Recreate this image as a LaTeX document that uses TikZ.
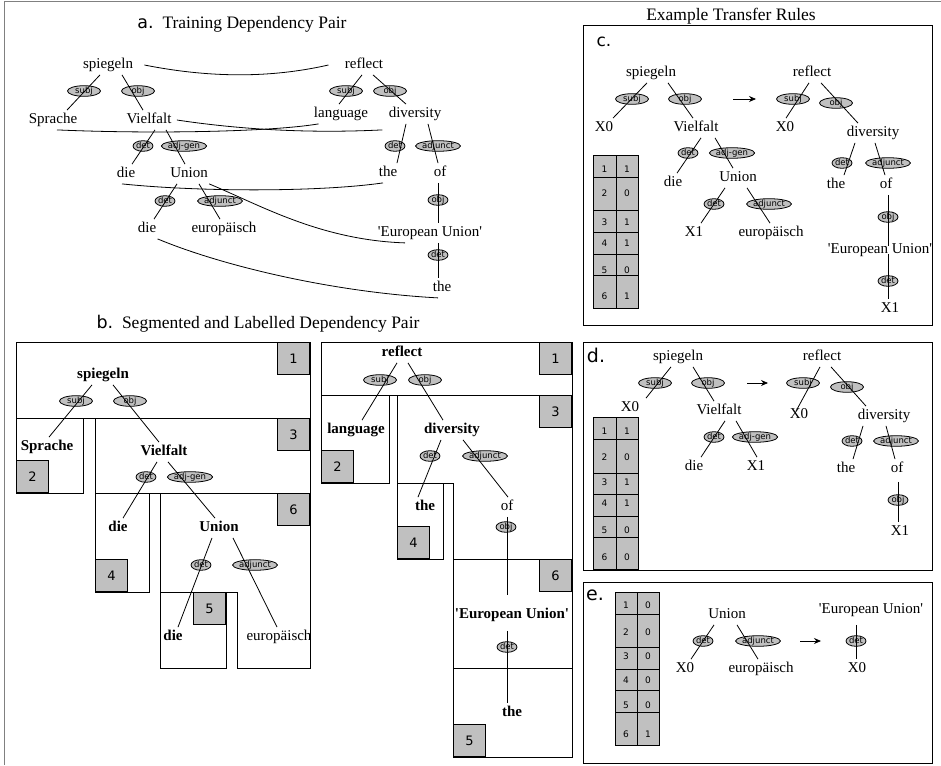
\documentclass[tikz,border=0pt]{standalone}
\usepackage{fontspec}
\setmainfont{Liberation Serif}
\setsansfont{DejaVu Sans}
\usetikzlibrary{shapes.geometric,arrows.meta}
\definecolor{boxgray}{RGB}{192,192,192}
\newcommand{\quo}{\textquotesingle}
\tikzset{
  word/.style={inner xsep=1pt,inner ysep=3pt,text height=10pt,text depth=3pt,font=\fontsize{15}{17}\selectfont},
  bword/.style={word,font=\fontsize{15}{17}\selectfont\bfseries},
  lab/.style={ellipse,draw,fill=boxgray,inner sep=0pt,minimum width=20pt,minimum height=10pt,text height=6pt,text depth=1.5pt,font=\sffamily\fontsize{8.5}{8.5}\selectfont},
  wlab/.style={lab,minimum width=33pt},
  numbox/.style={draw,fill=boxgray,minimum width=32pt,minimum height=32pt,inner sep=0pt,font=\sffamily\fontsize{13}{13}\selectfont},
  cell/.style={inner sep=0pt,font=\sffamily\fontsize{9}{9}\selectfont},
  headtxt/.style={font=\fontsize{17.5}{19}\selectfont},
  paneltag/.style={font=\sffamily\fontsize{17}{17}\selectfont}
}
\begin{document}
\begin{tikzpicture}[x=1pt,y=-1pt,line width=0.8pt]
\useasboundingbox (0,0) rectangle (941,765);
\draw[gray,line width=1pt] (4,765) -- (4,2) -- (941,2);

% a. training pair
\node[headtxt] (aTitle) at (242,24) {\textsf{a.}\enspace Training Dependency Pair};
\node[word] (aSpie) at (108,65) {spiegeln};
\node[word] (aSpr) at (53,120) {Sprache};
\node[word] (aVie) at (149,120) {Vielfalt};
\node[word] (aDie) at (126,174) {die};
\node[word] (aUni) at (189,174) {Union};
\node[word] (aDie2) at (147,229) {die};
\node[word] (aEur) at (224,229) {europäisch};
\node[wlab] (aSubj) at (84,91) {subj};
\node[wlab] (aObj) at (138,91) {obj};
\node[lab] (aDet) at (143,146) {det};
\node[lab] (aAdjg) at (184,146) {adj-gen};
\node[lab] (aDet2) at (165,201) {det};
\node[lab] (aAdju) at (220,201) {adjunct};
\node[word] (aRef) at (364,65) {reflect};
\node[word] (aLan) at (341,114) {language};
\node[word] (aDiv) at (415,114) {diversity};
\node[word] (aThe) at (388,173) {the};
\node[word] (aOf) at (440,173) {of};
\node[word] (aEU) at (430,233) {\quo{}European Union\quo};
\node[word] (aThe2) at (442,288) {the};
\node[wlab] (aSubjE) at (346,91) {subj};
\node[wlab] (aObjE) at (390,91) {obj};
\node[lab] (aDetE) at (395,146) {det};
\node[lab] (aAdjuE) at (438,146) {adjunct};
\node[lab] (aObjE2) at (438,200) {obj};
\node[lab] (aDetE2) at (438,255) {det};

\draw ([xshift=-8]aSpie.south) -- ([xshift=14]aSpr.north);
\draw ([xshift=14]aSpie.south) -- ([xshift=-6]aVie.north);
\draw ([xshift=6]aVie.south) -- ([xshift=6]aDie.north);
\draw ([xshift=17]aVie.south) -- ([xshift=-4]aUni.north);
\draw ([xshift=-12]aUni.south) -- ([xshift=7]aDie2.north);
\draw ([xshift=10]aUni.south) -- ([xshift=-4]aEur.north);
\draw ([xshift=-2]aRef.south) -- ([xshift=-2]aLan.north);
\draw ([xshift=9]aRef.south) -- ([xshift=-9]aDiv.north);
\draw ([xshift=-9]aDiv.south) -- ([xshift=9]aThe.north);
\draw ([xshift=13]aDiv.south) -- ([xshift=-2]aOf.north);
\draw ([xshift=-2]aOf.south) -- ([xshift=8]aEU.north);
\draw ([xshift=8]aEU.south) -- ([xshift=-4]aThe2.north);

% alignments
\draw ([xshift=10]aSpie.east) .. controls (220,80) and (280,76) .. ([xshift=-15]aRef.west);
\draw ([xshift=4]aSpr.south) .. controls (150,134) and (270,132) .. ([xshift=6]aLan.south west);
\draw ([xshift=4]aVie.east) .. controls (230,128) and (300,134) .. ([xshift=-5,yshift=-6]aDiv.south west);
\draw ([xshift=-4]aDie.south) .. controls (200,192) and (320,192) .. ([xshift=-5]aThe.south);
\draw (aUni.south east) .. controls (260,205) and (320,240) .. ([xshift=-25]aEU.south);
\draw (aDie2.south east) .. controls (220,265) and (330,292) .. ([xshift=-4]aThe2.south);

% b. segmented pair
\node[headtxt] (bTitle) at (258,324) {\textsf{b.}\enspace Segmented and Labelled Dependency Pair};
\draw (16,342) rectangle (310,418);
\draw (16,418) rectangle (83,493);
\draw (95,418) rectangle (310,493);
\draw (95,493) rectangle (149,592);
\draw (160,493) -- (310,493) -- (310,668) -- (237,668) -- (237,592) -- (160,592) -- cycle;
\draw (160,592) rectangle (226,668);
\node[numbox,anchor=north east] (bN1) at (310,342) {1};
\node[numbox,anchor=south west] (bN2) at (16,493) {2};
\node[numbox,anchor=north east] (bN3) at (310,418) {3};
\node[numbox,anchor=north east] (bN6) at (310,493) {6};
\node[numbox,anchor=south west] (bN4) at (95,592) {4};
\node[numbox,anchor=north east] (bN5) at (226,592) {5};

\node[bword] (bSpie) at (103,375) {spiegeln};
\node[bword] (bSpr) at (47,447) {Sprache};
\node[bword] (bVie) at (164,452) {Vielfalt};
\node[bword] (bDie) at (118,528) {die};
\node[bword] (bUni) at (219,528) {Union};
\node[bword] (bDie2) at (173,637) {die};
\node[word] (bEur) at (279,637) {europäisch};
\node[wlab] (bSubj) at (76,401) {subj};
\node[wlab] (bObj) at (130,401) {obj};
\node[lab] (bDet) at (146,477) {det};
\node[lab] (bAdjg) at (190,477) {adj-gen};
\node[lab] (bDet2) at (201,565) {det};
\node[lab] (bAdju) at (255,565) {adjunct};
\draw ([xshift=-11]bSpie.south) -- ([xshift=2]bSpr.north);
\draw ([xshift=10]bSpie.south) -- ([xshift=-5]bVie.north);
\draw ([xshift=-7]bVie.south) -- ([xshift=5]bDie.north);
\draw ([xshift=4]bVie.south) -- ([xshift=-4]bUni.north);
\draw ([xshift=-7]bUni.south) -- ([xshift=5]bDie2.north);
\draw ([xshift=14]bUni.south) -- ([xshift=-2]bEur.north);

\draw (321,342) rectangle (572,395);
\draw (321,395) rectangle (389,483);
\draw (397,395) -- (572,395) -- (572,559) -- (453,559) -- (453,483) -- (397,483) -- cycle;
\draw (397,483) rectangle (443,559);
\draw (453,559) rectangle (572,668);
\draw (453,668) rectangle (572,757);
\node[numbox,anchor=north east] (rN1) at (572,342) {1};
\node[numbox,anchor=south west] (rN2) at (321,483) {2};
\node[numbox,anchor=north east] (rN3) at (572,395) {3};
\node[numbox,anchor=south west] (rN4) at (397,559) {4};
\node[numbox,anchor=north east] (rN6) at (572,559) {6};
\node[numbox,anchor=south west] (rN5) at (453,757) {5};

\node[bword] (rRef) at (402,353) {reflect};
\node[bword] (rLan) at (356,430) {language};
\node[bword] (rDiv) at (452,430) {diversity};
\node[bword] (rThe) at (425,507) {the};
\node[word] (rOf) at (507,507) {of};
\node[bword] (rEU) at (512,615) {\quo{}European Union\quo};
\node[bword] (rThe2) at (512,713) {the};
\node[wlab] (rSubj) at (380,380) {subj};
\node[wlab] (rObj) at (425,380) {obj};
\node[lab] (rDet) at (430,456) {det};
\node[lab] (rAdju) at (485,456) {adjunct};
\node[lab] (rObj2) at (506,527) {obj};
\node[lab] (rDet2) at (507,647) {det};
\draw ([xshift=-5]rRef.south) -- ([xshift=6]rLan.north);
\draw ([xshift=6]rRef.south) -- ([xshift=-9]rDiv.north);
\draw ([xshift=-11]rDiv.south) -- ([xshift=-7]rThe.north);
\draw ([xshift=11]rDiv.south) -- ([xshift=1]rOf.north);
\draw (rOf.south) -- ([xshift=-5,yshift=10]rEU.north);
\draw ([xshift=-5,yshift=-6]rEU.south) -- ([xshift=-5]rThe2.north);

% c. rule
\node[headtxt] (cTitle) at (731,16) {Example Transfer Rules};
\draw (583,25) rectangle (932,325);
\node[paneltag] (cTag) at (604,42) {c.};
\node[word] (cSpie) at (651,73) {spiegeln};
\node[word] (cX0) at (604,128) {X0};
\node[word] (cVie) at (696,128) {Vielfalt};
\node[word] (cDie) at (673,183) {die};
\node[word] (cUni) at (738,178) {Union};
\node[word] (cX1) at (694,233) {X1};
\node[word] (cEur) at (771,233) {europäisch};
\node[wlab] (cSubj) at (632,99) {subj};
\node[wlab] (cObj) at (685,99) {obj};
\node[lab] (cDet) at (688,153) {det};
\node[lab] (cAdjg) at (732,153) {adj-gen};
\node[lab] (cDet2) at (714,204) {det};
\node[lab] (cAdju) at (769,204) {adjunct};
\node[word] (cRef) at (812,73) {reflect};
\node[word] (cX0r) at (785,128) {X0};
\node[word] (cDiv) at (873,133) {diversity};
\node[word] (cThe) at (836,185) {the};
\node[word] (cOf) at (886,185) {of};
\node[word] (cEU) at (880,250) {\quo{}European Union\quo};
\node[word] (cX1r) at (890,309) {X1};
\node[wlab] (cSubjE) at (793,99) {subj};
\node[wlab] (cObjE) at (836,103) {obj};
\node[lab] (cDetE) at (842,163) {det};
\node[lab] (cAdjuE) at (888,163) {adjunct};
\node[lab] (cObjE2) at (888,217) {obj};
\node[lab] (cDetE2) at (888,281) {det};
\coordinate (cArrA) at (733,99);
\coordinate (cArrB) at (756,99);
\draw[-{Stealth[length=7pt,width=6pt]}] (cArrA) -- (cArrB);
\draw ([xshift=-4]cSpie.south) -- ([xshift=9]cX0.north);
\draw ([xshift=17]cSpie.south) -- ([xshift=-3]cVie.north);
\draw ([xshift=5]cVie.south) -- ([xshift=4]cDie.north);
\draw ([xshift=19]cVie.south) -- ([xshift=-5]cUni.north);
\draw ([xshift=-13]cUni.south) -- ([xshift=7]cX1.north);
\draw ([xshift=9]cUni.south) -- ([xshift=-1]cEur.north);
\draw ([xshift=-3]cRef.south) -- ([xshift=1]cX0r.north);
\draw ([xshift=9]cRef.south) -- ([xshift=-15]cDiv.north);
\draw ([xshift=-18]cDiv.south) -- ([xshift=8]cThe.north);
\draw ([xshift=2]cDiv.south) -- ([xshift=-1]cOf.north);
\draw ([xshift=2]cOf.south) -- ([xshift=8,yshift=-6]cEU.north);
\draw ([xshift=8,yshift=6]cEU.south) -- ([xshift=-2]cX1r.north);

\draw[fill=boxgray] (593,155) rectangle (638,308);
\draw (616,155) -- (616,308);
\foreach \y in {177,210,232,254,275} \draw (593,\y) -- (638,\y);
\foreach \i/\v/\y in {1/1/169,2/0/193,3/1/222,4/1/243,5/0/270,6/1/296} {
  \node[cell] (cK\i) at (604.5,\y) {\i};
  \node[cell] (cV\i) at (627,\y) {\v};
}

% d. rule
\draw (583,342) rectangle (932,570);
\node[paneltag,font=\sffamily\fontsize{19}{19}\selectfont] (dTag) at (596,355) {d.};
\node[word] (dSpie) at (678,357) {spiegeln};
\node[word] (dX0) at (630,408) {X0};
\node[word] (dVie) at (719,411) {Vielfalt};
\node[word] (dDie) at (694,467) {die};
\node[word] (dX1) at (756,467) {X1};
\node[wlab] (dSubj) at (655,383) {subj};
\node[wlab] (dObj) at (708,383) {obj};
\node[lab] (dDet) at (714,437) {det};
\node[lab] (dAdjg) at (755,437) {adj-gen};
\node[word] (dRef) at (822,357) {reflect};
\node[word] (dX0r) at (799,415) {X0};
\node[word] (dDiv) at (884,416) {diversity};
\node[word] (dThe) at (846,469) {the};
\node[word] (dOf) at (897,469) {of};
\node[word] (dX1r) at (900,532) {X1};
\node[wlab] (dSubjE) at (803,383) {subj};
\node[wlab] (dObjE) at (847,387) {obj};
\node[lab] (dDetE) at (852,441) {det};
\node[lab] (dAdjuE) at (896,441) {adjunct};
\node[lab] (dObjE2) at (898,500) {obj};
\coordinate (dArrA) at (747,383);
\coordinate (dArrB) at (768,383);
\draw[-{Stealth[length=7pt,width=6pt]}] (dArrA) -- (dArrB);
\draw ([xshift=-7]dSpie.south) -- ([xshift=16]dX0.north);
\draw ([xshift=15]dSpie.south) -- ([xshift=-5]dVie.north);
\draw ([xshift=6]dVie.south) -- ([xshift=7]dDie.north);
\draw ([xshift=17]dVie.south) -- ([xshift=1]dX1.north);
\draw ([xshift=-2]dRef.south) -- ([xshift=-3,yshift=-6]dX0r.north);
\draw ([xshift=9]dRef.south) -- ([xshift=-18]dDiv.north);
\draw ([xshift=-21]dDiv.south) -- ([xshift=7]dThe.north);
\draw ([xshift=2]dDiv.south) -- ([xshift=-2]dOf.north);
\draw ([xshift=1,yshift=-3]dOf.south) -- ([xshift=-2]dX1r.north);

\draw[fill=boxgray] (593,417) rectangle (638,569);
\draw (616,417) -- (616,569);
\foreach \y in {439,473,494,516,537} \draw (593,\y) -- (638,\y);
\foreach \i/\v/\y in {1/1/431,2/0/457,3/1/482,4/1/503,5/0/530,6/0/557} {
  \node[cell] (dK\i) at (604.5,\y) {\i};
  \node[cell] (dV\i) at (627,\y) {\v};
}

% e. rule
\draw (583,582) rectangle (932,763);
\node[paneltag,font=\sffamily\fontsize{19}{19}\selectfont] (eTag) at (595,595) {e.};
\node[word] (eUni) at (727,615) {Union};
\node[word] (eX0) at (685,669) {X0};
\node[word] (eEur) at (761,669) {europäisch};
\node[lab] (eDet) at (703,641) {det};
\node[lab] (eAdju) at (758,641) {adjunct};
\node[word] (eEU) at (871,610) {\quo{}European Union\quo};
\node[word] (eX0r) at (857,669) {X0};
\node[lab] (eDetE) at (856,641) {det};
\coordinate (eArrA) at (800,641);
\coordinate (eArrB) at (821,641);
\draw[-{Stealth[length=7pt,width=6pt]}] (eArrA) -- (eArrB);
\draw ([xshift=-13]eUni.south) -- ([xshift=6]eX0.north);
\draw ([xshift=10]eUni.south) -- ([xshift=-3]eEur.north);
\draw ([xshift=-15,yshift=-5]eEU.south) -- ([xshift=-1]eX0r.north);

\draw[fill=boxgray] (615,592) rectangle (659,745);
\draw (637,592) -- (637,745);
\foreach \y in {614,647,669,690,712} \draw (615,\y) -- (659,\y);
\foreach \i/\v/\y in {1/0/605,2/0/632,3/0/656,4/0/680,5/0/705,6/1/734} {
  \node[cell] (eK\i) at (626,\y) {\i};
  \node[cell] (eV\i) at (648,\y) {\v};
}
\end{tikzpicture}
\end{document}
